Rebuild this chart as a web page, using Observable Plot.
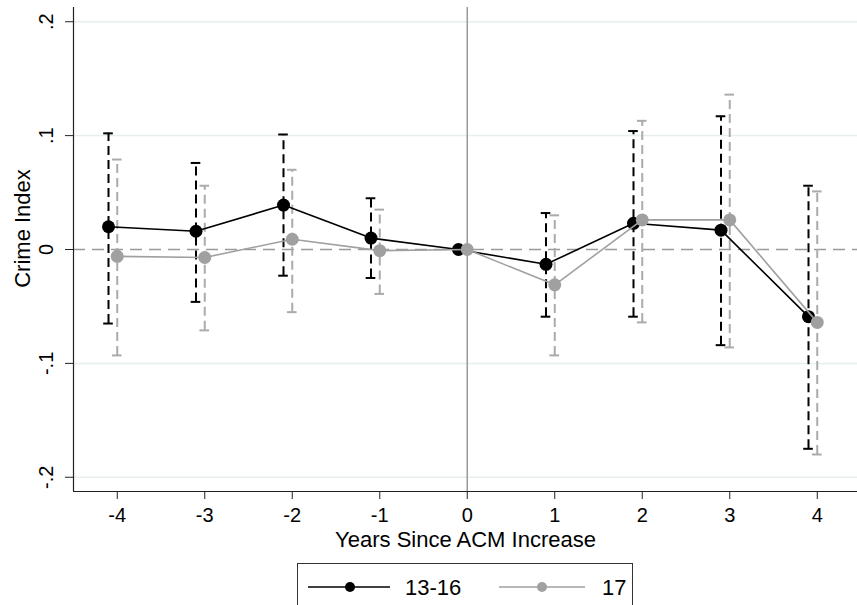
<!DOCTYPE html>
<html>
<head>
<meta charset="utf-8">
<script src="https://cdn.jsdelivr.net/npm/d3@7"></script>
<script src="https://cdn.jsdelivr.net/npm/@observablehq/plot@0.6"></script>
<style>
  html, body { margin: 0; padding: 0; background: #fff; }
  #wrap { position: relative; width: 857px; height: 605px; overflow: hidden; font-family: "Liberation Sans", Arial, Helvetica, sans-serif; }
  #legend { position: absolute; left: 297px; top: 563px; }
</style>
</head>
<body>
<div id="wrap">
  <div id="chart"></div>
  <div id="legend"></div>
</div>
<script>
// ---- data ----
const years = [-4, -3, -2, -1, 0, 1, 2, 3, 4];
const est1316 = [0.020, 0.016, 0.039, 0.010, 0, -0.013, 0.023, 0.017, -0.059];
const lo1316  = [-0.065, -0.046, -0.023, -0.025, 0, -0.059, -0.059, -0.084, -0.175];
const hi1316  = [0.102, 0.076, 0.101, 0.045, 0, 0.032, 0.104, 0.117, 0.056];
const est17   = [-0.006, -0.007, 0.009, -0.001, 0, -0.031, 0.026, 0.026, -0.064];
const lo17    = [-0.093, -0.071, -0.055, -0.039, 0, -0.093, -0.064, -0.086, -0.180];
const hi17    = [0.079, 0.056, 0.070, 0.035, 0, 0.030, 0.113, 0.136, 0.051];
const seriesNames = ["13-16", "17"];
const xTicks = [-4, -3, -2, -1, 0, 1, 2, 3, 4];
const xTickLabels = ["-4", "-3", "-2", "-1", "0", "1", "2", "3", "4"];
const yTicks = [-0.2, -0.1, 0, 0.1, 0.2];
const yTickLabels = ["-.2", "-.1", "0", ".1", ".2"];
const gridTicks = [-0.2, -0.1, 0.1, 0.2];
const xTitle = "Years Since ACM Increase";
const yTitle = "Crime Index";

// ---- styling ----
const FONT = '"Liberation Sans", Arial, Helvetica, sans-serif';
const BLACK = "#000000";
const GRAY = "#a0a0a0";
const GRAY_CI = "#ababab";
const TICK_FS = 20;
const TITLE_FS = 22;
const dodge1316 = -0.1;
const capHalf = 0.055;
const xDomain = [-4.5, 4.46];
const yDomain = [-0.2125, 0.2125];

const rows1316 = years.map((t, i) => ({x: t + dodge1316, y: est1316[i], lo: lo1316[i], hi: hi1316[i]}));
const rows17 = years.map((t, i) => ({x: t, y: est17[i], lo: lo17[i], hi: hi17[i]}));
const ci1316 = rows1316.filter(d => d.hi !== d.lo);
const ci17 = rows17.filter(d => d.hi !== d.lo);

function ciMarks(rows, color, dash) {
  return [
    Plot.ruleX(rows, {x: "x", y1: "lo", y2: "hi", stroke: color, strokeWidth: 2, strokeDasharray: dash}),
    Plot.ruleY(rows, {y: "hi", x1: d => d.x - capHalf, x2: d => d.x + capHalf, stroke: color, strokeWidth: 2}),
    Plot.ruleY(rows, {y: "lo", x1: d => d.x - capHalf, x2: d => d.x + capHalf, stroke: color, strokeWidth: 2})
  ];
}

const chart = Plot.plot({
  width: 857,
  height: 560,
  marginTop: 7,
  marginBottom: 69,
  marginLeft: 73,
  marginRight: 0,
  style: {fontFamily: FONT, fontSize: TICK_FS + "px", color: "#000", background: "#fff", overflow: "visible"},
  x: {domain: xDomain},
  y: {domain: yDomain},
  marks: [
    Plot.ruleY(gridTicks, {stroke: "#e6eef0", strokeWidth: 1.5}),
    Plot.ruleY([0], {stroke: "#9a9a9a", strokeWidth: 1.5, strokeDasharray: "12,7"}),
    Plot.ruleX([0], {stroke: "#9a9a9a", strokeWidth: 1.5}),
    ...ciMarks(ci1316, BLACK, "9,5"),
    ...ciMarks(ci17, GRAY_CI, "9,5"),
    Plot.line(rows1316, {x: "x", y: "y", stroke: BLACK, strokeWidth: 1.6}),
    Plot.dot(rows1316, {x: "x", y: "y", r: 6.5, fill: BLACK, stroke: null}),
    Plot.line(rows17, {x: "x", y: "y", stroke: GRAY, strokeWidth: 1.6}),
    Plot.dot(rows17, {x: "x", y: "y", r: 6.5, fill: GRAY, stroke: null}),
    // axes lines
    Plot.ruleX([xDomain[0]], {stroke: "#222", strokeWidth: 1.2}),
    Plot.ruleY([yDomain[0]], {stroke: "#222", strokeWidth: 1.2}),
    Plot.axisX({ticks: xTicks, tickSize: 8, tickPadding: 8, tickFormat: (d) => xTickLabels[xTicks.indexOf(d)], label: null, fontSize: TICK_FS, stroke: "#222"}),
    Plot.axisY({ticks: yTicks, tickSize: 8, tickFormat: () => "", label: null, stroke: "#222"}),
    Plot.text(yTicks, {y: d => d, text: (d, i) => yTickLabels[i], frameAnchor: "left", textAnchor: "middle", lineAnchor: "middle", dx: -27, rotate: -90, fontSize: TICK_FS, fill: "#000"}),
    Plot.text([yTitle], {text: d => d, frameAnchor: "left", textAnchor: "middle", lineAnchor: "middle", dx: -51, dy: -21, rotate: -90, fontSize: TITLE_FS, fill: "#000"}),
    Plot.text([xTitle], {text: d => d, frameAnchor: "bottom", textAnchor: "middle", lineAnchor: "middle", dy: 48, fontSize: TITLE_FS, fill: "#000"})
  ]
});
document.getElementById("chart").appendChild(chart);

// ---- legend ----
const legendItems = [
  {name: seriesNames[0], color: BLACK, lx1: 11, lx2: 93, dot: 53, tx: 108},
  {name: seriesNames[1], color: GRAY, lx1: 202, lx2: 288, dot: 245, tx: 305}
];
const svgNS = "http://www.w3.org/2000/svg";
const lg = document.createElementNS(svgNS, "svg");
lg.setAttribute("width", 336);
lg.setAttribute("height", 50);
lg.style.display = "block";
const box = document.createElementNS(svgNS, "rect");
box.setAttribute("x", 0.5); box.setAttribute("y", 0.5);
box.setAttribute("width", 335); box.setAttribute("height", 60);
box.setAttribute("fill", "#fff"); box.setAttribute("stroke", "#333"); box.setAttribute("stroke-width", 1);
lg.appendChild(box);
for (const it of legendItems) {
  const ln = document.createElementNS(svgNS, "line");
  ln.setAttribute("x1", it.lx1); ln.setAttribute("x2", it.lx2);
  ln.setAttribute("y1", 24); ln.setAttribute("y2", 24);
  ln.setAttribute("stroke", it.color); ln.setAttribute("stroke-width", 1.6);
  lg.appendChild(ln);
  const c = document.createElementNS(svgNS, "circle");
  c.setAttribute("cx", it.dot); c.setAttribute("cy", 24); c.setAttribute("r", 5);
  c.setAttribute("fill", it.color);
  lg.appendChild(c);
  const t = document.createElementNS(svgNS, "text");
  t.setAttribute("x", it.tx); t.setAttribute("y", 24);
  t.setAttribute("dy", "0.35em");
  t.setAttribute("font-family", FONT); t.setAttribute("font-size", 22);
  t.textContent = it.name;
  lg.appendChild(t);
}
document.getElementById("legend").appendChild(lg);
</script>
</body>
</html>
